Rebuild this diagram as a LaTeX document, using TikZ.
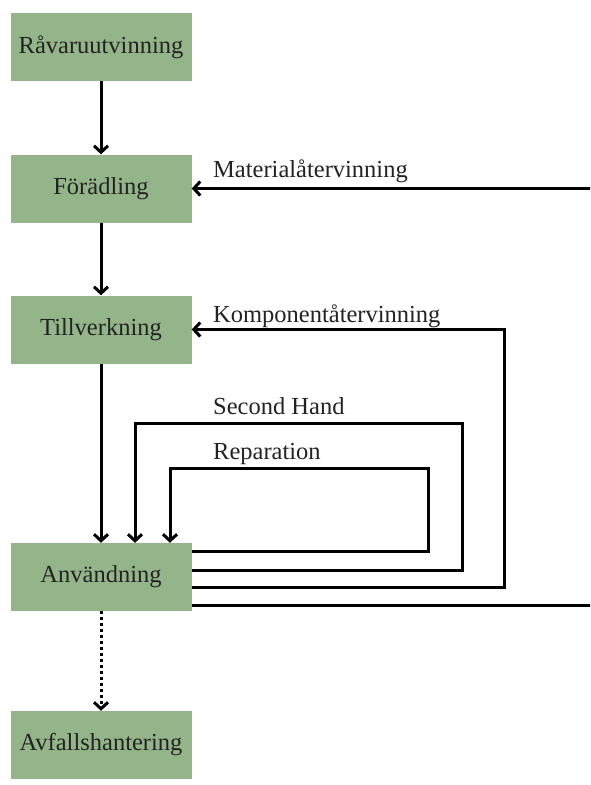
\documentclass[tikz,border=0pt]{standalone}
\usepackage{fontspec}
\setmainfont{Liberation Serif}
\usetikzlibrary{arrows.meta}
\definecolor{stagegreen}{RGB}{148,181,137}
\definecolor{ink}{RGB}{35,35,35}
\begin{document}
\begin{tikzpicture}[x=1pt,y=-1pt,>={Straight Barb[length=6.5pt,width=14pt]},
  stage/.style={fill=stagegreen,minimum width=181pt,minimum height=68pt,inner sep=0pt,text=ink,font=\fontsize{24.5}{28}\selectfont},
  flow/.style={->,line width=3pt},
  lbl/.style={anchor=base west,inner sep=0pt,text=ink,font=\fontsize{24.5}{28}\selectfont}]
\useasboundingbox (0,0) rectangle (590,785);
\clip (0,0) rectangle (590,785);
\node[stage] (rav) at (101,47) {Råvaruutvinning};
\node[stage] (ford) at (101,188.5) {Förädling};
\node[stage] (till) at (101,329.5) {Tillverkning};
\node[stage] (anv) at (101,577) {Användning};
\node[stage] (avf) at (101,745) {Avfallshantering};
\draw[flow] (rav) -- (ford);
\draw[flow] (ford) -- (till);
\draw[flow] (till) -- (anv);
\draw[flow,dash pattern=on 3pt off 3pt] (anv) -- (avf);
\draw[flow] ([yshift=-9pt]anv.north east) -| (428,468) -| (170,0 |- anv.north);
\draw[flow] ([yshift=-28pt]anv.north east) -| (462,423) -| (135,0 |- anv.north);
\draw[flow] ([yshift=-45pt]anv.north east) -| (504,0 |- till.east) -- (till.east);
\draw[flow] ([yshift=-63pt]anv.north east) -| (600,0 |- ford.east) -- (ford.east);
\node[lbl] (mat) at (213,177) {Materialåtervinning};
\node[lbl] (komp) at (213,322) {Komponentåtervinning};
\node[lbl] (sec) at (213,414) {Second Hand};
\node[lbl] (rep) at (213,459) {Reparation};
\end{tikzpicture}
\end{document}
